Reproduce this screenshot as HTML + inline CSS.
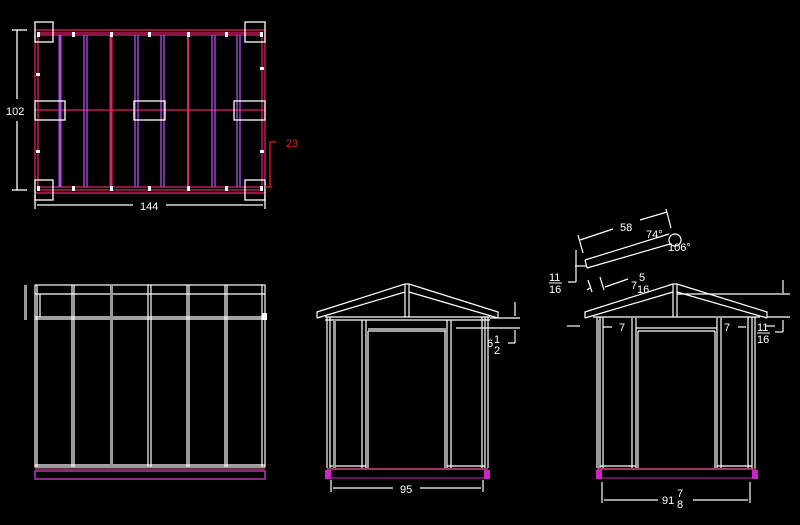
<!DOCTYPE html>
<html><head><meta charset="utf-8"><style>
html,body{margin:0;padding:0;background:#000;width:800px;height:525px;overflow:hidden}
svg{display:block}
text{font-family:"Liberation Sans",sans-serif;font-size:11px;fill:#fff}
</style></head><body>
<svg width="800" height="525" viewBox="0 0 800 525" xmlns="http://www.w3.org/2000/svg">
<rect width="800" height="525" fill="#000"/>
<!-- PLAN -->
<g fill="none" stroke-width="1.3">
<rect x="35" y="30" width="230" height="163" stroke="#e0206a"/>
<line x1="37" y1="33" x2="263" y2="33" stroke="#e0206a"/>
<line x1="37" y1="35" x2="263" y2="35" stroke="#e0206a"/>
<line x1="37" y1="187" x2="263" y2="187" stroke="#e0206a"/>
<line x1="37" y1="190" x2="263" y2="190" stroke="#e0206a"/>
<line x1="38" y1="33" x2="38" y2="190" stroke="#e0206a"/>
<line x1="262" y1="33" x2="262" y2="190" stroke="#e0206a"/>
<line x1="35" y1="110" x2="265" y2="110" stroke="#e0206a"/>
<g stroke="#b050e8">
<line x1="60" y1="35" x2="60" y2="187" stroke-width="3"/>
<line x1="84" y1="35" x2="84" y2="187"/><line x1="87" y1="35" x2="87" y2="187"/>
<line x1="111" y1="35" x2="111" y2="187" stroke="#e0206a" stroke-width="3"/>
<line x1="135" y1="35" x2="135" y2="187"/><line x1="138" y1="35" x2="138" y2="187"/>
<line x1="161" y1="35" x2="161" y2="187"/><line x1="164" y1="35" x2="164" y2="187"/>
<line x1="188" y1="35" x2="188" y2="187" stroke="#e0206a" stroke-width="2"/>
<line x1="212" y1="35" x2="212" y2="187"/><line x1="215" y1="35" x2="215" y2="187"/>
<line x1="237" y1="35" x2="237" y2="187"/><line x1="240" y1="35" x2="240" y2="187"/>
</g>
<g stroke="#fff">
<rect x="35" y="22" width="18" height="20"/><rect x="245" y="22" width="20" height="20"/>
<rect x="35" y="180" width="18" height="20"/><rect x="245" y="180" width="20" height="20"/>
<rect x="35" y="101" width="30" height="19"/><rect x="134" y="101" width="31" height="19"/><rect x="234" y="101" width="31" height="19"/>
<line x1="17" y1="30" x2="17" y2="99"/><line x1="17" y1="121" x2="17" y2="190"/>
<line x1="12" y1="30" x2="27" y2="30"/><line x1="12" y1="190" x2="27" y2="190"/>
<line x1="35" y1="195" x2="35" y2="209"/><line x1="265" y1="195" x2="265" y2="209"/>
<line x1="37" y1="205" x2="133" y2="205"/><line x1="166" y1="205" x2="263" y2="205"/>
</g>
<g stroke="#e02020">
<line x1="270" y1="142" x2="270" y2="187"/><line x1="270" y1="142" x2="276" y2="142"/>
<line x1="265" y1="187" x2="272" y2="187"/>
</g>
</g>
<g fill="#fff">
<rect x="37" y="32" width="3" height="5"/><rect x="72" y="32" width="3" height="5"/><rect x="110" y="32" width="3" height="5"/><rect x="148" y="32" width="3" height="5"/><rect x="187" y="32" width="3" height="5"/><rect x="225" y="32" width="3" height="5"/><rect x="260" y="32" width="3" height="5"/>
<rect x="37" y="186" width="3" height="5"/><rect x="72" y="186" width="3" height="5"/><rect x="110" y="186" width="3" height="5"/><rect x="148" y="186" width="3" height="5"/><rect x="187" y="186" width="3" height="5"/><rect x="225" y="186" width="3" height="5"/><rect x="260" y="186" width="3" height="5"/>
<rect x="36" y="73" width="4" height="3"/><rect x="36" y="150" width="4" height="3"/><rect x="260" y="67" width="4" height="3"/><rect x="260" y="150" width="4" height="3"/>
</g>
<text x="6" y="115" font-size="12">102</text>
<text x="140" y="210" font-size="12">144</text>
<text x="286" y="147" style="fill:#e02020">23</text>

<!-- LEFT ELEVATION -->
<g fill="none" stroke="#fff" stroke-width="1.2">
<rect x="35" y="285" width="230" height="182"/>
<line x1="35" y1="294" x2="265" y2="294"/>
<line x1="35" y1="317" x2="265" y2="317"/><line x1="35" y1="319" x2="265" y2="319"/>
<line x1="37" y1="285" x2="37" y2="467"/>
<line x1="40" y1="294" x2="40" y2="317"/>
<line x1="72" y1="285" x2="72" y2="467"/><line x1="74" y1="285" x2="74" y2="467"/>
<line x1="148" y1="285" x2="148" y2="467"/><line x1="151" y1="285" x2="151" y2="467"/>
<line x1="187" y1="285" x2="187" y2="467"/><line x1="189" y1="285" x2="189" y2="467"/>
<line x1="225" y1="285" x2="225" y2="467"/><line x1="227" y1="285" x2="227" y2="467"/>
<line x1="262" y1="285" x2="262" y2="467"/>
<line x1="35" y1="465" x2="265" y2="465"/>
</g>
<rect x="110" y="285" width="3" height="182" fill="#999"/>
<rect x="24" y="285" width="3" height="35" fill="#999"/>
<rect x="262" y="313" width="5" height="7" fill="#fff"/>
<line x1="35" y1="469" x2="265" y2="469" stroke="#e06080"/>
<rect x="35" y="471" width="230" height="8" fill="none" stroke="#c030c0" stroke-width="1.5"/>

<!-- MIDDLE ELEVATION -->
<g fill="none" stroke="#fff" stroke-width="1.2">
<polyline points="317,318 317,312 405,284 409,284 498,312 498,318"/>
<polyline points="317,318 405,292"/><polyline points="409,292 498,318"/>
<line x1="405" y1="284" x2="405" y2="317"/><line x1="409" y1="284" x2="409" y2="317"/>
<line x1="325" y1="317" x2="490" y2="317"/><line x1="325" y1="320" x2="490" y2="320"/>
<line x1="327" y1="317" x2="327" y2="468"/><line x1="330" y1="317" x2="330" y2="468"/>
<line x1="482" y1="317" x2="482" y2="468"/><line x1="485" y1="317" x2="485" y2="468"/><line x1="488" y1="317" x2="488" y2="468"/>
<line x1="362" y1="320" x2="362" y2="468"/><line x1="366" y1="320" x2="366" y2="468"/>
<line x1="447" y1="320" x2="447" y2="468"/><line x1="451" y1="320" x2="451" y2="468"/>
<line x1="368" y1="329" x2="446" y2="329"/><line x1="368" y1="331" x2="446" y2="331"/>
<line x1="368" y1="331" x2="368" y2="468"/><line x1="445" y1="331" x2="445" y2="468"/>
<line x1="330" y1="466" x2="366" y2="466"/><line x1="447" y1="466" x2="485" y2="466"/>
<line x1="490" y1="318" x2="520" y2="318"/><line x1="456" y1="328" x2="520" y2="328"/>
<line x1="515" y1="302" x2="515" y2="316"/><line x1="515" y1="330" x2="515" y2="343"/><line x1="508" y1="343" x2="515" y2="343"/>
<line x1="331" y1="480" x2="331" y2="492"/><line x1="483" y1="480" x2="483" y2="492"/>
<line x1="333" y1="488" x2="393" y2="488"/><line x1="420" y1="488" x2="481" y2="488"/>
</g>
<rect x="333" y="320" width="3" height="148" fill="#999"/>
<line x1="327" y1="469" x2="488" y2="469" stroke="#e04080" stroke-width="1.5"/>
<line x1="331" y1="478" x2="484" y2="478" stroke="#c030c0"/>
<rect x="325" y="470" width="6" height="9" fill="#d020d0"/><rect x="484" y="470" width="6" height="9" fill="#d020d0"/>
<text x="400" y="493" font-size="12">95</text>
<text x="487" y="347" font-size="12">6</text><text x="494" y="343" font-size="10">1</text><text x="494" y="354" font-size="10">2</text>

<!-- RIGHT ELEVATION -->
<g fill="none" stroke="#fff" stroke-width="1.2">
<polyline points="585,318 585,312 673,284 677,284 767,312 767,318"/>
<polyline points="585,318 673,292"/><polyline points="677,292 767,318"/>
<line x1="673" y1="284" x2="673" y2="317"/><line x1="677" y1="284" x2="677" y2="317"/>
<line x1="593" y1="317" x2="760" y2="317"/>
<line x1="677" y1="294" x2="790" y2="294"/>
<line x1="783" y1="280" x2="783" y2="293"/>
<line x1="767" y1="317" x2="790" y2="317"/><line x1="783" y1="320" x2="783" y2="332"/><line x1="775" y1="332" x2="783" y2="332"/>
<line x1="597" y1="317" x2="597" y2="468"/><line x1="600" y1="317" x2="600" y2="468"/><line x1="603" y1="317" x2="603" y2="468"/>
<line x1="748" y1="317" x2="748" y2="468"/><line x1="752" y1="317" x2="752" y2="468"/><line x1="755" y1="317" x2="755" y2="468"/>
<line x1="632" y1="318" x2="632" y2="468"/><line x1="636" y1="318" x2="636" y2="468"/>
<line x1="717" y1="318" x2="717" y2="468"/><line x1="721" y1="318" x2="721" y2="468"/>
<line x1="636" y1="328" x2="717" y2="328"/><line x1="638" y1="331" x2="715" y2="331"/>
<line x1="638" y1="331" x2="638" y2="468"/><line x1="715" y1="331" x2="715" y2="468"/>
<line x1="600" y1="466" x2="636" y2="466"/><line x1="717" y1="466" x2="752" y2="466"/>
<line x1="567" y1="326" x2="580" y2="326"/><line x1="603" y1="327" x2="612" y2="327"/>
<line x1="738" y1="327" x2="746" y2="327"/><line x1="766" y1="326" x2="775" y2="326"/>
<line x1="602" y1="482" x2="602" y2="503"/><line x1="750" y1="482" x2="750" y2="503"/>
<line x1="604" y1="500" x2="658" y2="500"/><line x1="693" y1="500" x2="748" y2="500"/>
<line x1="585" y1="260" x2="669" y2="234"/><line x1="587" y1="268" x2="670" y2="244"/>
<line x1="585" y1="260" x2="587" y2="268"/>
<line x1="580" y1="240" x2="613" y2="229"/><line x1="640" y1="220" x2="667" y2="212"/>
<line x1="578" y1="235" x2="583" y2="253"/><line x1="666" y1="209" x2="671" y2="228"/>
<line x1="576" y1="250" x2="576" y2="282"/><line x1="568" y1="282" x2="576" y2="282"/>
<line x1="575" y1="266" x2="586" y2="266"/>
<line x1="587" y1="290" x2="590" y2="288"/><line x1="588" y1="280" x2="592" y2="292"/>
<line x1="600" y1="277" x2="604" y2="290"/><line x1="605" y1="287" x2="628" y2="279"/>
<circle cx="675" cy="240" r="6"/>
</g>
<rect x="596" y="320" width="3" height="148" fill="#999"/>
<line x1="597" y1="469" x2="756" y2="469" stroke="#e04080" stroke-width="1.5"/>
<line x1="602" y1="478" x2="752" y2="478" stroke="#c030c0"/>
<rect x="596" y="470" width="6" height="9" fill="#d020d0"/><rect x="752" y="470" width="6" height="9" fill="#d020d0"/>
<text x="619" y="331" font-size="12">7</text>
<text x="724" y="331" font-size="12">7</text>
<text x="757" y="331" font-size="11">11</text><text x="757" y="343" font-size="11">16</text>
<line x1="757" y1="333" x2="770" y2="333" stroke="#fff"/>
<text x="662" y="504" font-size="12">91</text><text x="677" y="497" font-size="10">7</text><text x="677" y="508" font-size="10">8</text>
<text x="620" y="231" font-size="12">58</text>
<text x="646" y="238" font-size="11">74°</text>
<text x="668" y="251" font-size="11">106°</text>
<text x="549" y="281" font-size="11">11</text><text x="549" y="293" font-size="11">16</text>
<line x1="549" y1="283" x2="562" y2="283" stroke="#fff"/>
<text x="631" y="289" font-size="12">7</text><text x="639" y="281" font-size="11">5</text><text x="637" y="293" font-size="11">16</text>
</svg>
</body></html>
